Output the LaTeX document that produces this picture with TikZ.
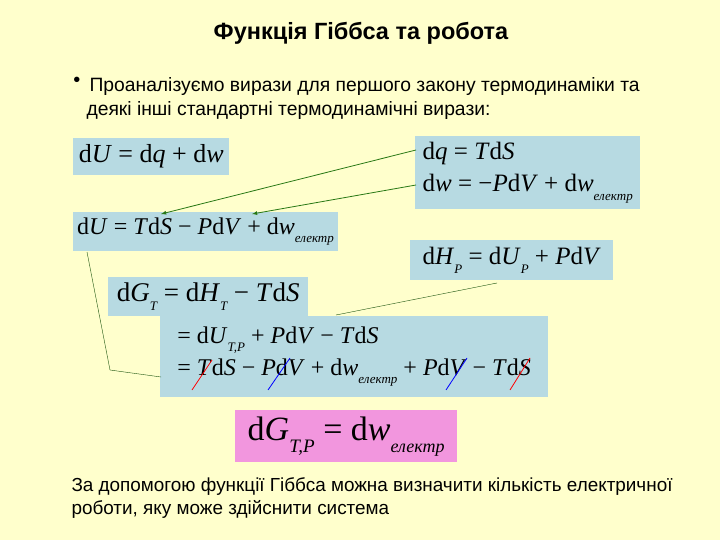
\documentclass[tikz,border=0pt]{standalone}
\usepackage{fontspec}
\setmainfont{Liberation Serif}
\setsansfont{Liberation Sans}
\newcommand{\vi}[1]{\textit{#1}}
\newcommand{\sub}[1]{\raisebox{-0.35em}{\fontsize{13}{14}\selectfont\itshape #1}}
\newcommand{\el}{\sub{електр}}
\begin{document}
\begin{tikzpicture}[x=1pt,y=-1pt,
  box/.style={fill=boxblue,anchor=north west,inner xsep=4pt,inner ysep=5pt,align=left,font=\fontsize{24}{32}\selectfont},
  arr/.style={draw=arrgreen,thick,-latex},
  lnk/.style={draw=arrgreen!70!black,thin},
  txt/.style={anchor=west,font=\sffamily\fontsize{19.3}{22}\selectfont,align=left}]
\definecolor{bg}{RGB}{255,255,204}
\definecolor{boxblue}{RGB}{183,218,226}
\definecolor{pinkbox}{RGB}{242,150,222}
\definecolor{arrgreen}{RGB}{40,120,20}
\fill[bg] (0,0) rectangle (720,540);
\useasboundingbox (0,0) rectangle (720,540);
\node[font=\sffamily\bfseries\fontsize{23.5}{24}\selectfont] (title) at (361,33) {Функція Гіббса та робота};
\node[font=\sffamily\fontsize{20}{22}\selectfont] (bul) at (77,82) {•};
\node[txt] (t1) at (86,87) {Проаналізуємо вирази для першого закону термодинаміки та};
\node[txt] (t2) at (83,111) {деякі інші стандартні термодинамічні вирази:};
\node[box,minimum width=156pt,minimum height=37pt,font=\fontsize{26}{32}\selectfont] (b1) at (73,138) {d\vi{U} = d\vi{q} + d\vi{w}};
\node[box,minimum width=225pt,minimum height=73pt,font=\fontsize{25}{32}\selectfont] (b2) at (415,136) {d\vi{q} = \vi{T}d\vi{S}\\d\vi{w} = −\vi{P}d\vi{V} + d\vi{w}\el};
\node[box,minimum width=264pt,minimum height=39pt] (b3) at (73,212) {d\vi{U} = \vi{T}d\vi{S} − \vi{P}d\vi{V} + d\vi{w}\el};
\node[box,minimum width=203pt,minimum height=40pt,font=\fontsize{25}{32}\selectfont] (b4) at (410,240) {d\vi{H}\sub{P} = d\vi{U}\sub{P} + \vi{P}d\vi{V}};
\node[box,minimum width=200pt,minimum height=39pt,font=\fontsize{27}{32}\selectfont] (b5) at (108,277) {d\vi{G}\sub{T} = d\vi{H}\sub{T} − \vi{T}d\vi{S}};
\node[box,minimum width=388pt,minimum height=81pt] (b6) at (160,316) {= d\vi{U}\sub{T,P} + \vi{P}d\vi{V} − \vi{T}d\vi{S}\\= \vi{T}d\vi{S} − \vi{P}d\vi{V} + d\vi{w}\el{} + \vi{P}d\vi{V} − \vi{T}d\vi{S}};
\node[fill=pinkbox,anchor=north west,minimum width=222pt,minimum height=52pt,font=\fontsize{34}{36}\selectfont] (b7) at (235,410) {d\vi{G}\raisebox{-0.35em}{\fontsize{19}{20}\selectfont\itshape T,P} = d\vi{w}\raisebox{-0.35em}{\fontsize{18}{20}\selectfont\itshape електр}};
\coordinate (a1s) at (416,150); \coordinate (a1e) at (161,214);
\coordinate (a2s) at (416,185); \coordinate (a2e) at (252,214);
\draw[arr] (a1s) -- (a1e);
\draw[arr] (a2s) -- (a2e);
\coordinate (l1a) at (87,252); \coordinate (l1b) at (110,370); \coordinate (l1c) at (161,377);
\draw[lnk] (l1a) -- (l1b) -- (l1c);
\coordinate (l2a) at (497,283); \coordinate (l2b) at (336,315);
\draw[lnk] (l2a) -- (l2b);
\draw[red,thick] (192,390) -- (212,360);
\draw[blue,thick] (268,390) -- (290,358);
\draw[blue,thick] (446,390) -- (467,358);
\draw[red,thick] (510,390) -- (530,358);
\node[txt,font=\sffamily\fontsize{18.9}{22}\selectfont] (f1) at (68,487) {За допомогою функції Гіббса можна визначити кількість електричної};
\node[txt,font=\sffamily\fontsize{18.9}{22}\selectfont] (f2) at (68,509) {роботи, яку може здійснити система};
\end{tikzpicture}
\end{document}
